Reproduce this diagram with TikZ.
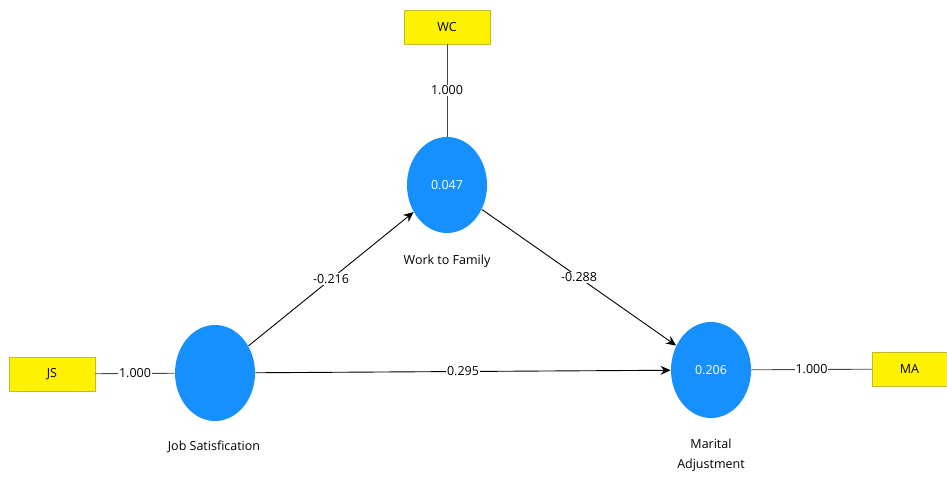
\documentclass[tikz,border=0pt]{standalone}
\usepackage{fontspec}
\setmainfont{Open Sans}
\usetikzlibrary{arrows.meta}
\usetikzlibrary{shapes.geometric}

\definecolor{dodger}{RGB}{22,144,255}
\definecolor{boxline}{RGB}{190,190,40}
\definecolor{linegray}{RGB}{70,70,70}

\begin{document}
\begin{tikzpicture}[x=1pt,y=-1pt,>={Stealth[length=10pt,width=9pt]},line width=0.9pt,
                    latent/.style={ellipse,fill=dodger,minimum width=80pt,minimum height=96pt,inner sep=0pt,
                                   text=white,font=\fontsize{12.5}{15}\selectfont},
                    indicator/.style={rectangle,draw=boxline,fill=yellow,minimum width=86pt,minimum height=34pt,
                                      inner sep=0pt,font=\fontsize{12.5}{15}\selectfont},
                    weight/.style={fill=white,inner sep=1pt,text=black,font=\fontsize{12.5}{15}\selectfont},
                    caption/.style={align=center,font=\fontsize{12.5}{20}\selectfont}]

  \useasboundingbox (0,0) rectangle (947,477);

  % indicators
  \node[indicator](wc) at (447,27) {WC};
  \node[indicator](js) at (52,374) {JS};
  \node[indicator,minimum width=75pt](ma) at (909.5,369) {MA};

  % constructs
  \node[latent](wtf) at (447,185) {0.047};
  \node[latent](jsat) at (215,373) {};
  \node[latent](madj) at (711,370) {0.206};

  \node[caption](wtflabel) at (447,261) {Work to Family};
  \node[caption](jsatlabel) at (214,447) {Job Satisfication};
  \node[caption](madjlabel) at (711,455) {Marital\\Adjustment};

  % loadings
  \path[draw=linegray]
    (wc) edge node [weight] {1.000} (wtf)
    (js) edge node [weight] {1.000} (jsat)
    (madj) edge node [weight] {1.000} (ma);

  % paths
  \path[->,draw=black]
    (jsat) edge node [weight] {-0.216} (wtf)
    (wtf) edge node [weight] {-0.288} (madj)
    (jsat) edge node [weight] {0.295} (madj);
\end{tikzpicture}
\end{document}
